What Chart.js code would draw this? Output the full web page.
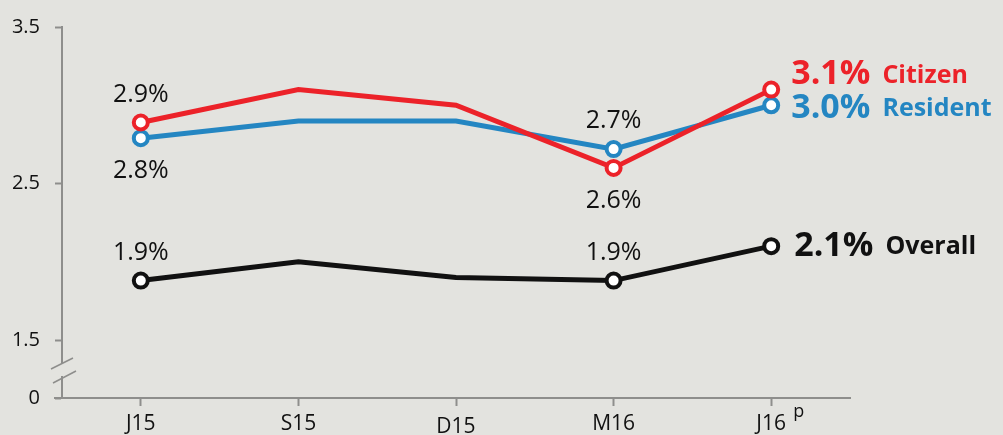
<!DOCTYPE html>
<html>
<head>
<meta charset="utf-8">
<script src="https://cdn.jsdelivr.net/npm/chart.js@4.4.1/dist/chart.umd.min.js"></script>
<style>
  html, body { margin: 0; padding: 0; background: #e3e3df; }
  canvas { display: block; }
</style>
</head>
<body>
<canvas id="rateChart" width="1003" height="435"></canvas>
<script>
// data
const periods = ['J15', 'S15', 'D15', 'M16', 'J16'];
const citizen = [2.89, 3.1, 3.0, 2.6, 3.1];
const resident = [2.79, 2.9, 2.9, 2.72, 3.0];
const overall = [1.88, 2.0, 1.9, 1.88, 2.1];
const seriesNames = ['Citizen', 'Resident', 'Overall'];
const yTickValues = [1.13, 1.5, 2.5, 3.5];
const yTickLabels = ['0', '1.5', '2.5', '3.5'];
// which points get a value label, and where (above / below)
const citizenNotes = [[0, 'above'], [3, 'below']];
const residentNotes = [[0, 'below'], [3, 'above']];
const overallNotes = [[0, 'above'], [3, 'above']];

const BG = '#e3e3df';
const AXIS = '#8e8e8c';
const colors = ['#ec2229', '#2486c2', '#111111'];
const FONT = "'Open Sans', 'Noto Sans', sans-serif";

// marker only on J15, M16, J16
const markerR = [7, 0, 0, 7, 7];

function ds(label, data, color) {
  return {
    label: label,
    data: data,
    borderColor: color,
    backgroundColor: '#ffffff',
    borderWidth: 5,
    tension: 0,
    pointRadius: markerR,
    pointBorderWidth: 4,
    pointBorderColor: color,
    pointBackgroundColor: '#ffffff'
  };
}

const fmt = v => v.toFixed(1) + '%';

const decor = {
  id: 'decor',
  afterDraw(chart) {
    const ctx = chart.ctx;
    const x = chart.scales.x, y = chart.scales.y;
    const area = chart.chartArea;
    ctx.save();

    // little extension of the x axis left of the y axis
    ctx.strokeStyle = AXIS;
    ctx.lineWidth = 2;
    ctx.beginPath();
    ctx.moveTo(area.left - 8, area.bottom);
    ctx.lineTo(area.left, area.bottom);
    ctx.stroke();

    // axis break
    ctx.fillStyle = BG;
    ctx.fillRect(area.left - 3, 363, 6, 13);
    ctx.strokeStyle = AXIS;
    ctx.lineWidth = 1.5;
    ctx.beginPath();
    ctx.moveTo(51, 369); ctx.lineTo(73, 358);
    ctx.moveTo(53, 383); ctx.lineTo(76, 371);
    ctx.stroke();

    // x labels
    ctx.fillStyle = '#111';
    ctx.textBaseline = 'middle';
    periods.forEach((p, i) => {
      const px = x.getPixelForValue(i);
      const py = p === 'D15' ? area.bottom + 29 : area.bottom + 26;
      ctx.font = '21px ' + FONT;
      ctx.textAlign = 'center';
      ctx.fillText(p, px, py);
      if (i === periods.length - 1) {
        ctx.font = '18px ' + FONT;
        ctx.textAlign = 'left';
        ctx.fillText('p', px + 22, area.bottom + 14);
      }
    });

    // value notes
    ctx.font = '25px ' + FONT;
    ctx.textAlign = 'center';
    ctx.fillStyle = '#111';
    const allNotes = [[citizen, citizenNotes], [resident, residentNotes], [overall, overallNotes]];
    allNotes.forEach(([data, notes]) => {
      notes.forEach(([i, where]) => {
        const px = x.getPixelForValue(i);
        const py = y.getPixelForValue(data[i]);
        ctx.fillText(fmt(data[i]), px, where === 'above' ? py - 28 : py + 33);
      });
    });

    // end labels
    const last = periods.length - 1;
    const ex = x.getPixelForValue(last) + 20;
    [citizen, resident, overall].forEach((data, k) => {
      const py = y.getPixelForValue(data[last]) - 15 * (k === 0 ? 1 : 0) + (k === 1 ? 3 : 0);
      const sx = ex + (k === 2 ? 3 : 0);
      ctx.fillStyle = colors[k];
      ctx.textAlign = 'left';
      ctx.font = 'bold 34px ' + FONT;
      const val = fmt(data[last]);
      ctx.fillText(val, sx, py);
      const w = ctx.measureText(val).width;
      ctx.font = 'bold 25px ' + FONT;
      ctx.fillText(seriesNames[k], sx + w + 12, py + 1);
    });

    ctx.restore();
  }
};

new Chart(document.getElementById('rateChart'), {
  type: 'line',
  data: {
    labels: periods,
    datasets: [
      ds(seriesNames[0], citizen, colors[0]),
      ds(seriesNames[1], resident, colors[1]),
      ds(seriesNames[2], overall, colors[2])
    ]
  },
  options: {
    responsive: false,
    animation: false,
    layout: { padding: { top: 26, right: 153, left: 0, bottom: 0 } },
    plugins: {
      legend: { display: false },
      tooltip: { enabled: false }
    },
    scales: {
      x: {
        offset: true,
        grid: { offset: false, drawOnChartArea: false, color: AXIS, tickLength: 8, tickWidth: 2 },
        border: { color: AXIS, width: 2 },
        ticks: { display: false },
        afterFit(scale) { scale.height = 37; }
      },
      y: {
        min: yTickValues[0],
        max: yTickValues[yTickValues.length - 1],
        afterBuildTicks(scale) { scale.ticks = yTickValues.map(v => ({ value: v })); },
        grid: { drawOnChartArea: false, color: AXIS, tickLength: 7, tickWidth: 2 },
        border: { color: AXIS, width: 2 },
        ticks: {
          color: '#111',
          font: { family: FONT, size: 20 },
          padding: 15,
          callback: function(value) {
            const i = yTickValues.indexOf(value);
            return i >= 0 ? yTickLabels[i] : '';
          }
        },
        afterFit(scale) { scale.width = 62; }
      }
    }
  },
  plugins: [decor]
});
</script>
</body>
</html>
